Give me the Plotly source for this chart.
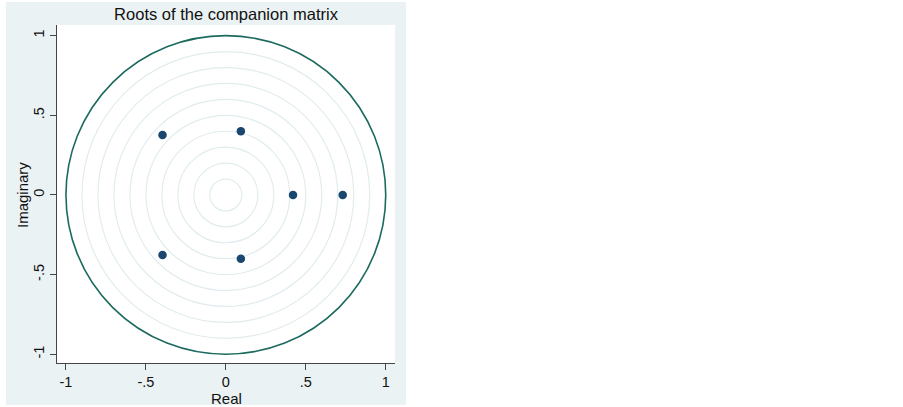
"""Roots of the companion matrix (Stata-style eigenvalue stability plot)."""

import plotly.graph_objects as go

# eigenvalues
real_parts = [0.731, 0.420, 0.094, 0.094, -0.396, -0.396]
imag_parts = [0.0, 0.0, 0.400, -0.400, 0.377, -0.377]

grid_radii = [0.1, 0.2, 0.3, 0.4, 0.5, 0.6, 0.7, 0.8, 0.9]
unit_radius = 1.0

tick_vals = [-1, -0.5, 0, 0.5, 1]
tick_text = ["-1", "-.5", "0", ".5", "1"]

FONT = "Liberation Sans, Arial, sans-serif"
GRAPH_BG = "#eaf2f3"
GRID_CIRCLE = "#e1ecee"
UNIT_CIRCLE = "#1c6a5e"
MARKER = "#1a476f"
AXIS = "#444444"
TEXT = "#111111"

fig = go.Figure()

# graph-region background and white plot region
fig.add_shape(type="rect", xref="paper", yref="paper",
              x0=-0.151, x1=1.0325, y0=-0.124, y1=1.068,
              fillcolor=GRAPH_BG, line=dict(width=0), layer="below")
fig.add_shape(type="rect", xref="paper", yref="paper",
              x0=0, x1=1, y0=0, y1=1,
              fillcolor="white", line=dict(width=0), layer="below")

for r in grid_radii:
    fig.add_shape(type="circle", xref="x", yref="y",
                  x0=-r, x1=r, y0=-r, y1=r,
                  line=dict(color=GRID_CIRCLE, width=1.2), layer="below")

fig.add_shape(type="circle", xref="x", yref="y",
              x0=-unit_radius, x1=unit_radius, y0=-unit_radius, y1=unit_radius,
              line=dict(color=UNIT_CIRCLE, width=1.6), layer="below")

fig.add_trace(
    go.Scatter(
        x=real_parts,
        y=imag_parts,
        mode="markers",
        marker=dict(color=MARKER, size=8.5),
        showlegend=False,
        hovertemplate="Real: %{x:.3f}<br>Imaginary: %{y:.3f}<extra></extra>",
    )
)

# axis titles as annotations so they sit where Stata puts them
fig.add_annotation(text="Real", xref="paper", yref="paper",
                   x=0.5, y=-0.1036, xanchor="center", yanchor="middle",
                   showarrow=False, font=dict(family=FONT, size=15, color=TEXT))
fig.add_annotation(text="Imaginary", xref="paper", yref="paper",
                   x=-0.1036, y=0.497, xanchor="center", yanchor="middle",
                   textangle=-90, showarrow=False,
                   font=dict(family=FONT, size=15, color=TEXT))

fig.update_layout(
    width=903,
    height=407,
    paper_bgcolor="white",
    plot_bgcolor="rgba(0,0,0,0)",
    margin=dict(l=57, r=508, t=25, b=44, autoexpand=False),
    font=dict(family=FONT, size=15, color=TEXT),
    title=dict(
        text="Roots of the companion matrix",
        x=0.5, xref="paper", xanchor="center",
        y=1 - 14 / 407, yref="container", yanchor="middle",
        font=dict(family=FONT, size=16.5, color=TEXT),
    ),
    showlegend=False,
)

fig.update_xaxes(
    range=[-1.056, 1.058],
    tickvals=tick_vals, ticktext=tick_text,
    ticks="outside", ticklen=6, tickwidth=1, tickcolor=AXIS,
    showline=True, linecolor=AXIS, linewidth=1,
    showgrid=False, zeroline=False, automargin=False,
    tickfont=dict(size=14.5),
)
fig.update_yaxes(
    range=[-1.055, 1.067],
    tickvals=tick_vals, ticktext=tick_text,
    ticks="outside", ticklen=6, tickwidth=1, tickcolor=AXIS,
    tickangle=-90,
    showline=True, linecolor=AXIS, linewidth=1,
    showgrid=False, zeroline=False, automargin=False,
    tickfont=dict(size=14.5),
)

# drop the browser's default body margin so the figure fills the window
fig.write_html(
    "out.html",
    config={"displayModeBar": False},
    post_script="document.body.style.margin='0px';",
)
